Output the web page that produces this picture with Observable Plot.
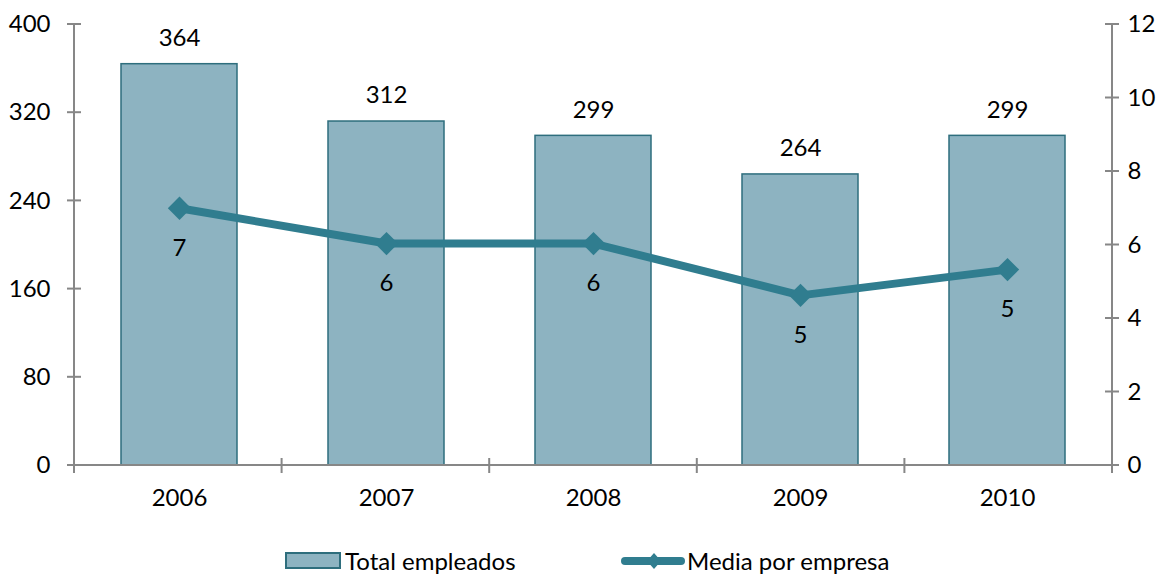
<!DOCTYPE html>
<html>
<head>
<meta charset="utf-8">
<script src="https://cdn.jsdelivr.net/npm/d3@7"></script>
<script src="https://cdn.jsdelivr.net/npm/@observablehq/plot@0.6"></script>
<style>
  body { margin: 0; background: #fff; font-family: Lato, "DejaVu Sans", sans-serif; }
  #wrap { position: relative; width: 1173px; height: 577px; }
  #legend { position: absolute; left: 0; top: 540px; width: 1173px; height: 37px; font-size: 24px; color: #000; }
  .item { position: absolute; top: 6px; display: flex; align-items: center; }
</style>
</head>
<body>
<div id="wrap">
  <div id="chart"></div>
  <div id="legend"></div>
</div>
<script>
const years = ["2006", "2007", "2008", "2009", "2010"];
const totalEmpleados = [364, 312, 299, 264, 299];
const mediaEmpresa = [7.0, 6.04, 6.04, 4.63, 5.33];
const leftTicks = [0, 80, 160, 240, 320, 400];
const rightTicks = [0, 2, 4, 6, 8, 10, 12];
const seriesNames = ["Total empleados", "Media por empresa"];

const barFill = "#8db3c1";
const barStroke = "#2e6e7d";
const lineColor = "#307d8f";
const axisColor = "#878787";
const fs = 24;
const k = 400 / 12; // right axis (0–12) mapped onto left axis (0–400)

const data = years.map((year, i) => ({year, total: totalEmpleados[i], media: mediaEmpresa[i]}));

const axisDecor = (index, scales, values, dims) => {
  const {width, height, marginLeft, marginRight, marginTop, marginBottom} = dims;
  const xL = marginLeft, xR = width - marginRight, yB = height - marginBottom, yT = marginTop;
  const g = d3.create("svg:g").attr("stroke", axisColor).attr("stroke-width", 2).attr("fill", "none");
  g.append("line").attr("x1", xL).attr("x2", xL).attr("y1", yT).attr("y2", yB);
  g.append("line").attr("x1", xR).attr("x2", xR).attr("y1", yT).attr("y2", yB);
  g.append("line").attr("x1", xL).attr("x2", xR).attr("y1", yB).attr("y2", yB);
  for (const t of leftTicks) {
    const y = scales.y(t);
    g.append("line").attr("x1", xL - 7).attr("x2", xL + 7).attr("y1", y).attr("y2", y);
  }
  for (const t of rightTicks) {
    const y = scales.y(t * k);
    g.append("line").attr("x1", xR - 7).attr("x2", xR + 7).attr("y1", y).attr("y2", y);
  }
  const step = (xR - xL) / years.length;
  for (let i = 0; i <= years.length; i++) {
    const x = xL + i * step;
    g.append("line").attr("x1", x).attr("x2", x).attr("y1", yB - 7).attr("y2", yB + 8);
  }
  return g.node();
};

const chart = Plot.plot({
  width: 1173,
  height: 530,
  marginTop: 24,
  marginBottom: 65,
  marginLeft: 74,
  marginRight: 61,
  style: {fontFamily: "Lato, 'DejaVu Sans', sans-serif", fontSize: fs + "px", color: "#000", background: "#fff"},
  x: {domain: years, paddingInner: 0.44, paddingOuter: 0.22, align: 0.5, axis: null},
  y: {domain: [0, 400], axis: null},
  marks: [
    Plot.barY(data, {x: "year", y: "total", fill: barFill, stroke: barStroke, strokeWidth: 1.5}),
    Plot.text(data, {x: "year", y: "total", text: d => String(d.total), dy: -26, fill: "#000", fontSize: fs}),
    Plot.line(data, {x: "year", y: d => d.media * k, stroke: lineColor, strokeWidth: 8, strokeLinejoin: "round", strokeLinecap: "round"}),
    Plot.dot(data, {x: "year", y: d => d.media * k, symbol: "diamond2", r: 10.5, fill: lineColor, stroke: "none"}),
    Plot.text(data, {x: "year", y: d => d.media * k, text: d => d3.format(".0f")(d.media), dy: 40, fill: "#000", fontSize: fs}),
    axisDecor,
    Plot.axisY({ticks: leftTicks, anchor: "left", label: null, tickSize: 0, tickPadding: 24, fontSize: fs, fill: "#000"}),
    Plot.axisY({ticks: rightTicks.map(t => t * k), anchor: "right", label: null, tickSize: 0, tickPadding: 15, tickFormat: d => String(Math.round(d / k)), fontSize: fs, fill: "#000"}),
    Plot.axisX({anchor: "bottom", label: null, tickSize: 0, tickPadding: 23, fontSize: fs, fill: "#000"})
  ]
});
document.getElementById("chart").appendChild(chart);

const legend = document.getElementById("legend");
legend.innerHTML = `
  <div class="item" style="left:285px">
    <svg width="58" height="20" style="margin-right:2px"><rect x="1" y="2" width="54" height="15" fill="${barFill}" stroke="${barStroke}" stroke-width="2"/></svg>
    <span>${seriesNames[0]}</span>
  </div>
  <div class="item" style="left:621px">
    <svg width="64" height="20" style="margin-right:2px">
      <line x1="4" x2="60" y1="10" y2="10" stroke="${lineColor}" stroke-width="8" stroke-linecap="round"/>
      <path d="M33,2 L40,10 L33,18 L26,10 Z" fill="${lineColor}"/>
    </svg>
    <span>${seriesNames[1]}</span>
  </div>`;
</script>
</body>
</html>
